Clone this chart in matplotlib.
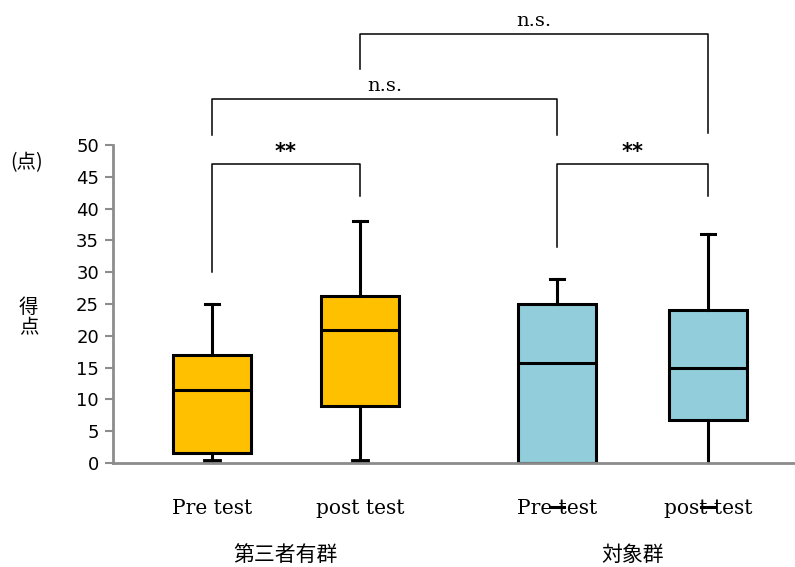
import matplotlib.pyplot as plt
import numpy as np

plt.rcParams['font.family'] = ['DejaVu Sans', 'Noto Sans CJK JP']

# データ
labels = ['Pre test', 'post test', 'Pre test', 'post test']
groups = ['第三者有群', '対象群']
positions = [1.0, 2.0, 3.33, 4.35]
whis_lo = [0.3, 0.3, 0.0, 0.0]
q1 = [1.5, 9.0, 0.0, 6.8]
med = [11.5, 20.9, 15.7, 15.0]
q3 = [17.0, 26.3, 25.0, 24.0]
whis_hi = [25.0, 38.0, 29.0, 36.0]
colors = ['#FFC000', '#FFC000', '#92CDDC', '#92CDDC']

# 有意差の括弧: (左x, 右x, 上, 左足, 右足, ラベル)
brackets = [
    (1.0, 2.0, 47.0, 30.0, 42.0, '**'),
    (3.33, 4.35, 47.0, 34.0, 42.0, '**'),
    (1.0, 3.33, 57.2, 51.6, 51.6, 'n.s.'),
    (2.0, 4.35, 67.4, 61.9, 51.9, 'n.s.'),
]

fig = plt.figure(figsize=(7.95, 5.67), dpi=100)
ax = fig.add_axes([0.142, 0.1834, 0.858, 0.5609])

stats = []
for i in range(len(labels)):
    stats.append({'whislo': whis_lo[i], 'q1': q1[i], 'med': med[i],
                  'q3': q3[i], 'whishi': whis_hi[i], 'fliers': []})

res = ax.bxp(stats, positions=positions, widths=0.527, patch_artist=True,
             showfliers=False, capwidths=0.095,
             boxprops=dict(linewidth=2.2, edgecolor='black'),
             medianprops=dict(color='black', linewidth=2.2),
             whiskerprops=dict(color='black', linewidth=2.2),
             capprops=dict(color='black', linewidth=2.2))
for patch, c in zip(res['boxes'], colors):
    patch.set_facecolor(c)
# 対象群の下側キャップは軸の下に描かれている
for k in (4, 6):
    res['caps'][k].set_ydata([-6.9, -6.9])
    res['caps'][k].set_clip_on(False)
for k in (0, 2):
    res['caps'][k].set_linewidth(3.5)

for x1, x2, top, l1, l2, txt in brackets:
    ax.plot([x1, x1, x2, x2], [l1, top, top, l2], color='black',
            linewidth=1.1, clip_on=False)
    if txt == '**':
        ax.text((x1 + x2) / 2, top + 0.3, txt, ha='center', va='bottom',
                fontsize=15, fontweight='bold')
    else:
        ax.text((x1 + x2) / 2, top + 0.6, txt, ha='center', va='bottom',
                fontsize=14, family='DejaVu Serif')

ax.set_xlim(0.331, 4.939)
ax.set_ylim(0, 50)
ax.set_yticks(np.arange(0, 51, 5))
ax.tick_params(axis='y', labelsize=13, length=6, width=1.5, color='#8c8c8c', pad=4)
ax.set_xticks(positions)
ax.set_xticklabels(labels, family='DejaVu Serif', fontsize=14.5)
ax.tick_params(axis='x', length=0, pad=26)

for s in ['top', 'right']:
    ax.spines[s].set_visible(False)
for s in ['left', 'bottom']:
    ax.spines[s].set_color('#8c8c8c')
    ax.spines[s].set_linewidth(2)

ax.text(1.5, -0.29, groups[0], transform=ax.get_xaxis_transform(),
        ha='center', va='center', fontsize=15, family='Noto Sans CJK JP')
ax.text(3.84, -0.29, groups[1], transform=ax.get_xaxis_transform(),
        ha='center', va='center', fontsize=15, family='Noto Sans CJK JP')

fig.text(0.034, 0.713, '(点)', ha='center', va='center', fontsize=14,
         family='Noto Sans CJK JP')
fig.text(0.036, 0.44, '得\n点', ha='center', va='center', fontsize=14,
         family='Noto Sans CJK JP', linespacing=1.0)

fig.savefig('out.png', dpi=100)
